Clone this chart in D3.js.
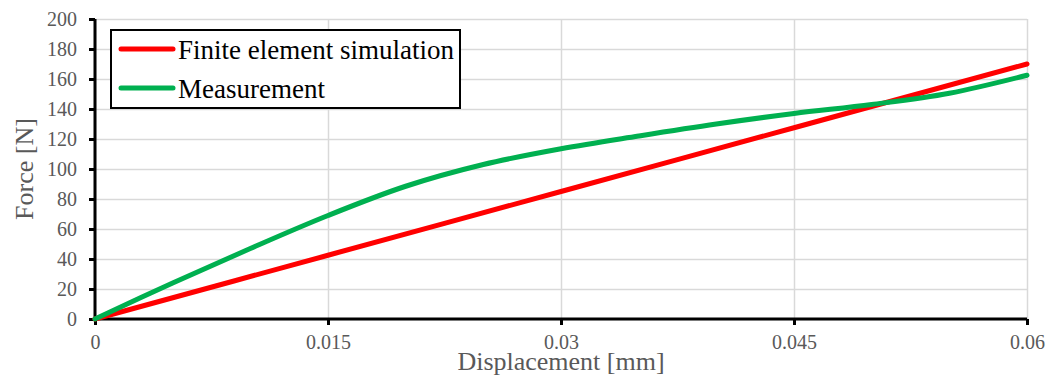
<!DOCTYPE html>
<meta charset="utf-8">
<style>
body { margin: 0; background: #fff; }
.tick text { font-family: "Liberation Serif", "Times New Roman", serif; font-size: 20px; fill: #595959; }
.grid line { stroke: #d9d9d9; stroke-width: 1.5; }
.grid path { display: none; }
.axis path, .axis line { stroke: #000; stroke-width: 3; }
.label { font-family: "Liberation Serif", "Times New Roman", serif; font-size: 26px; fill: #595959; }
.legend text { font-family: "Liberation Serif", "Times New Roman", serif; font-size: 27px; fill: #000; }
</style>
<body>
<script src="https://d3js.org/d3.v7.min.js"></script>
<script>
// data
var simX = [0, 0.015, 0.03, 0.045, 0.06];
var simY = [0, 42.5, 85, 127.5, 170];

var measX = [0, 0.005, 0.01, 0.015, 0.02, 0.025, 0.03, 0.035, 0.04, 0.045, 0.05, 0.055, 0.06];
var measY = [0, 24, 47, 69, 88.5, 103, 113.5, 122, 130, 137, 143, 150.5, 162.5];

var xTicks = [0, 0.015, 0.03, 0.045, 0.06];
var xTickLabels = ["0", "0.015", "0.03", "0.045", "0.06"];
var yTicks = [0, 20, 40, 60, 80, 100, 120, 140, 160, 180, 200];

var seriesNames = ["Finite element simulation", "Measurement"];
var seriesColors = ["#ff0000", "#00b050"];

var margin = {top: 19, right: 21, bottom: 57, left: 95},
    width = 1048 - margin.left - margin.right,
    height = 376 - margin.top - margin.bottom;

var x = d3.scaleLinear().domain([0, 0.06]).range([0, width]);
var y = d3.scaleLinear().domain([0, 200]).range([height, 0]);

var svg = d3.select("body").append("svg")
    .attr("width", 1048)
    .attr("height", 376)
  .append("g")
    .attr("transform", "translate(" + margin.left + "," + margin.top + ")");

// gridlines
svg.append("g")
    .attr("class", "grid")
    .call(d3.axisLeft(y).tickValues(yTicks).tickSize(-width).tickFormat(""));
svg.append("g")
    .attr("class", "grid")
    .attr("transform", "translate(0," + height + ")")
    .call(d3.axisBottom(x).tickValues(xTicks).tickSize(-height).tickFormat(""));

// axes
svg.append("g")
    .attr("class", "axis")
    .attr("transform", "translate(0," + height + ")")
    .call(d3.axisBottom(x).tickValues(xTicks).tickSize(6).tickPadding(10)
        .tickFormat(function(d, i) { return xTickLabels[i]; }))
    .call(function(g) { g.select(".domain").attr("d", "M0,0H" + width); });

svg.append("g")
    .attr("class", "axis")
    .call(d3.axisLeft(y).tickValues(yTicks).tickSize(6).tickPadding(12))
    .call(function(g) { g.select(".domain").attr("d", "M0," + height + "V0"); })
    .selectAll(".tick text").attr("dy", "0.34em");

// axis titles
svg.append("text")
    .attr("class", "label")
    .attr("x", width / 2)
    .attr("y", height + 51)
    .style("text-anchor", "middle")
    .text("Displacement [mm]");

svg.append("text")
    .attr("class", "label")
    .attr("transform", "rotate(-90)")
    .attr("x", -height / 2)
    .attr("y", -62)
    .style("text-anchor", "middle")
    .text("Force [N]");

// lines
var line = d3.line()
    .x(function(d) { return x(d[0]); })
    .y(function(d) { return y(d[1]); })
    .curve(d3.curveCatmullRom.alpha(0.5));

var series = [
  d3.zip(simX, simY),
  d3.zip(measX, measY)
];

svg.selectAll(".series")
    .data(series)
    .enter().append("path")
    .attr("class", "series")
    .attr("d", line)
    .style("fill", "none")
    .style("stroke", function(d, i) { return seriesColors[i]; })
    .style("stroke-width", 5)
    .style("stroke-linecap", "round");

// legend
var legend = svg.append("g")
    .attr("class", "legend")
    .attr("transform", "translate(16,11)");

legend.append("rect")
    .attr("width", 349)
    .attr("height", 78)
    .style("fill", "#fff")
    .style("stroke", "#000")
    .style("stroke-width", 2);

var item = legend.selectAll(".item")
    .data(seriesNames)
    .enter().append("g")
    .attr("class", "item")
    .attr("transform", function(d, i) { return "translate(0," + (19 + i * 39) + ")"; });

item.append("line")
    .attr("x1", 10).attr("x2", 62)
    .style("stroke", function(d, i) { return seriesColors[i]; })
    .style("stroke-width", 5)
    .style("stroke-linecap", "round");

item.append("text")
    .attr("x", 67)
    .attr("dy", "0.36em")
    .text(function(d) { return d; });
</script>
</body>
